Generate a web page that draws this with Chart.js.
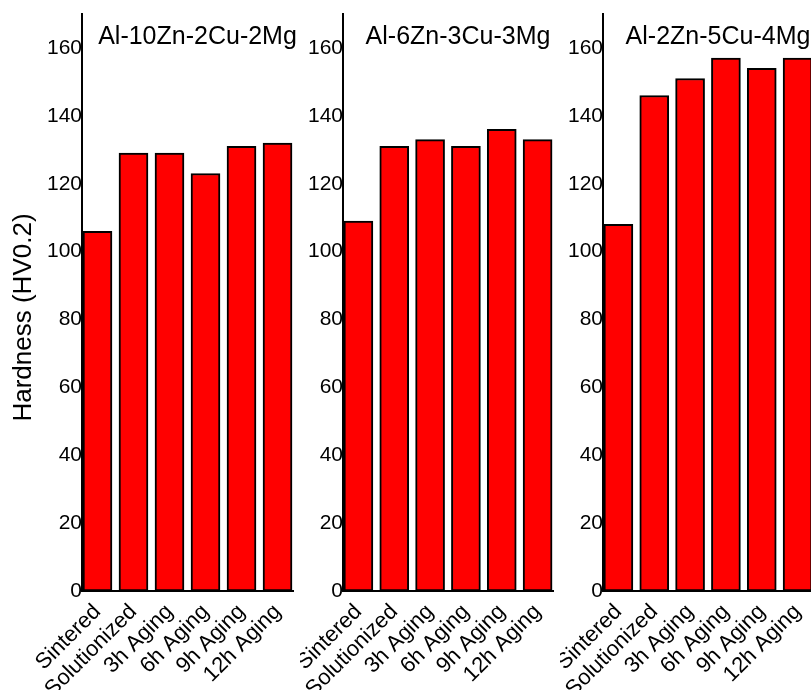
<!DOCTYPE html>
<html>
<head>
<meta charset="utf-8">
<script src="https://cdn.jsdelivr.net/npm/chart.js@4.4.0/dist/chart.umd.min.js"></script>
<style>
  html, body { margin: 0; padding: 0; background: #fff; overflow: hidden; }
  #wrap { position: relative; width: 811px; height: 690px; overflow: hidden; }
  canvas { position: absolute; top: 0; }
</style>
</head>
<body>
<div id="wrap">
  <canvas id="c1" width="301" height="690" style="left:0px"></canvas>
  <canvas id="c2" width="261" height="690" style="left:300px"></canvas>
  <canvas id="c3" width="261" height="690" style="left:560px"></canvas>
</div>
<script>
// data
const categories = ["Sintered", "Solutionized", "3h Aging", "6h Aging", "9h Aging", "12h Aging"];
const alloyNames = ["Al-10Zn-2Cu-2Mg", "Al-6Zn-3Cu-3Mg", "Al-2Zn-5Cu-4Mg"];
const hardness10Zn = [106, 129, 129, 123, 131, 132];
const hardness6Zn = [109, 131, 133, 131, 136, 133];
const hardness2Zn = [108, 146, 151, 157, 154, 157];
const yTicks = [0, 20, 40, 60, 80, 100, 120, 140, 160];
const yTitle = "Hardness (HV0.2)";

const FONT = '"Liberation Sans", Arial, sans-serif';

// panel title inside the plot + optional rotated y title
const panelText = {
  id: "panelText",
  afterDraw(chart, args, opts) {
    const { ctx, chartArea } = chart;
    ctx.save();
    ctx.fillStyle = "#000";
    ctx.font = "25px " + FONT;
    ctx.textAlign = "center";
    ctx.textBaseline = "alphabetic";
    ctx.fillText(opts.title, (chartArea.left + chartArea.right) / 2 + 10, chartArea.top + 30);
    if (opts.yTitle) {
      ctx.translate(24, (chartArea.top + chartArea.bottom) / 2 + 15);
      ctx.rotate(-Math.PI / 2);
      ctx.font = "26px " + FONT;
      ctx.textBaseline = "middle";
      ctx.fillText(opts.yTitle, 0, 0);
    }
    ctx.restore();
  }
};

function makePanel(id, values, title, yWidth, withYTitle) {
  return new Chart(document.getElementById(id), {
    type: "bar",
    data: {
      datasets: [{
        data: values.map((v, i) => ({ x: i + 1, y: v })),
        backgroundColor: "#ff0000",
        borderColor: "#000",
        borderWidth: 2,
        borderSkipped: false,
        barThickness: 29
      }]
    },
    options: {
      responsive: false,
      animation: false,
      layout: { padding: { top: 14, right: 8, bottom: 0, left: 0 } },
      plugins: {
        legend: { display: false },
        tooltip: { enabled: false },
        panelText: { title: title, yTitle: withYTitle ? yTitle : null }
      },
      scales: {
        x: {
          type: "linear",
          offset: false,
          min: 0.57,
          max: 6.43,
          grid: { display: false, drawTicks: false },
          border: { color: "#000", width: 2 },
          afterBuildTicks: (s) => { s.ticks = categories.map((c, i) => ({ value: i + 1 })); },
          afterFit: (s) => { s.height = 99; s.paddingLeft = 0; s.paddingRight = 0; },
          ticks: {
            autoSkip: false,
            minRotation: 45,
            maxRotation: 45,
            padding: 8,
            color: "#000",
            font: { size: 22, family: FONT },
            callback: (v) => categories[v - 1]
          }
        },
        y: {
          min: 0,
          max: 170,
          grid: { display: false, drawTicks: false },
          border: { color: "#000", width: 2 },
          afterBuildTicks: (s) => { s.ticks = yTicks.map((v) => ({ value: v })); },
          afterFit: (s) => { s.width = yWidth; s.paddingTop = 0; s.paddingBottom = 0; },
          ticks: { padding: 0, color: "#000", font: { size: 21, family: FONT } }
        }
      }
    },
    plugins: [panelText]
  });
}

makePanel("c1", hardness10Zn, alloyNames[0], 82, true);
makePanel("c2", hardness6Zn, alloyNames[1], 43, false);
makePanel("c3", hardness2Zn, alloyNames[2], 43, false);
</script>
</body>
</html>
